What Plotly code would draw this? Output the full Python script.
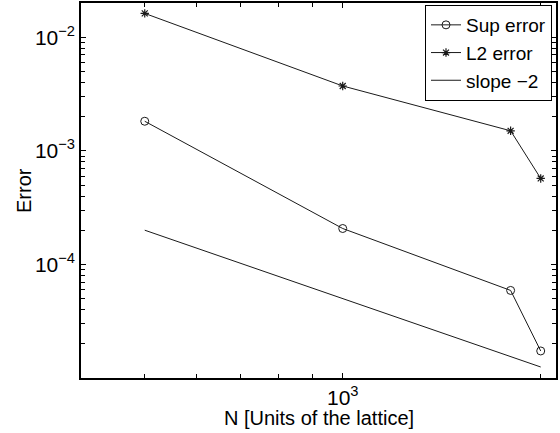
import math
import plotly.graph_objects as go

# Data
N = [500, 1000, 1800, 2000]
sup_err = [1.82e-3, 2.07e-4, 5.9e-5, 1.73e-5]
l2_err = [1.62e-2, 3.72e-3, 1.5e-3, 5.71e-4]
slope_N = [500, 2000]
slope_vals = [2.0e-4, 1.25e-5]

x_tickvals = [1000]
x_ticktext = ["10<sup>3</sup>"]
x_minor = [400, 500, 600, 700, 800, 900, 2000]

y_tickvals = [1e-4, 1e-3, 1e-2]
y_ticktext = ["10<sup>\u22124</sup>", "10<sup>\u22123</sup>", "10<sup>\u22122</sup>"]
y_minor = [m * 10.0 ** e for e in (-5, -4, -3) for m in range(2, 10)] + [2e-2]

x_title = "N [Units of the lattice]"
y_title = "Error"

ink = "#1a1a1a"
fig = go.Figure()
fig.add_trace(go.Scatter(x=N, y=sup_err, mode="lines+markers", name="Sup error",
                         line=dict(color=ink, width=1),
                         marker=dict(symbol="circle-open", size=8, color=ink, line=dict(width=1))))
fig.add_trace(go.Scatter(x=N, y=l2_err, mode="lines+markers", name="L2 error",
                         line=dict(color=ink, width=1),
                         marker=dict(symbol="asterisk-open", size=7, color=ink, line=dict(width=1.2))))
fig.add_trace(go.Scatter(x=slope_N, y=slope_vals, mode="lines", name="slope \u22122",
                         line=dict(color=ink, width=1)))

L, R, T, B = 81, 4, 3, 55
W, H = 560, 433
pw, ph = W - L - R, H - T - B

axis_common = dict(
    type="log", tickmode="array",
    ticks="inside", ticklen=5, tickcolor="black", tickwidth=1,
    showline=True, linecolor="black", linewidth=1.5, mirror="ticks",
    showgrid=False, zeroline=False, automargin=False,
    tickfont=dict(size=21),
)

fig.update_layout(
    width=W, height=H,
    margin=dict(l=L, r=R, t=T, b=B, autoexpand=False),
    paper_bgcolor="white", plot_bgcolor="white",
    font=dict(family="Liberation Sans, Arial, Helvetica, sans-serif", color="black", size=19),
    showlegend=True,
    legend=dict(x=(552 - L) / pw, xanchor="right", y=(H - B - 5) / ph, yanchor="top",
                bordercolor="black", borderwidth=1, bgcolor="white",
                font=dict(size=19), tracegroupgap=0, itemwidth=30),
    xaxis=dict(axis_common, range=[math.log10(400), math.log10(2110)],
               tickvals=x_tickvals, ticktext=x_ticktext,
               minor=dict(tickmode="array", tickvals=x_minor, ticks="inside",
                          ticklen=4, tickcolor="black", tickwidth=1, showgrid=False)),
    yaxis=dict(axis_common, range=[-5, math.log10(2.0e-2)],
               tickvals=y_tickvals, ticktext=y_ticktext,
               minor=dict(tickmode="array", tickvals=y_minor, ticks="inside",
                          ticklen=4, tickcolor="black", tickwidth=1, showgrid=False)),
    annotations=[
        dict(text=x_title, xref="paper", yref="paper",
             x=((W - R + L) / 2 - L) / pw, y=1 - (418 - T) / ph,
             xanchor="center", yanchor="middle", showarrow=False,
             font=dict(size=20, color="black")),
        dict(text=y_title, xref="paper", yref="paper", textangle=-90,
             x=(24 - L) / pw, y=1 - (191 - T) / ph,
             xanchor="center", yanchor="middle", showarrow=False,
             font=dict(size=20, color="black")),
    ],
)

fig.write_html("out.html",
               config={"displayModeBar": False},
               post_script="document.body.style.margin='0';document.body.style.padding='0';")
